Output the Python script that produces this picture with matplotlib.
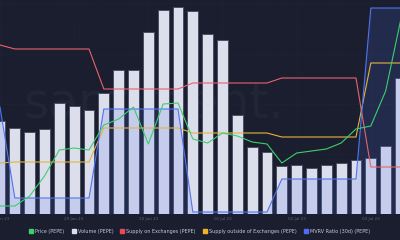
import matplotlib
matplotlib.use("Agg")
import matplotlib.pyplot as plt
from matplotlib.lines import Line2D
import numpy as np

# ---- data (28 periods, index -1 .. 26) ----
idx = list(range(-1, 27))
volume = [93, 86, 82, 85, 111, 108, 104, 121, 144, 144, 182, 204, 207, 203,
          180, 174, 99, 67, 62, 48, 49, 46, 49, 51, 54, 56, 68, 136]
price = [8, 8, 18, 38, 64, 66, 64, 89, 95, 107, 70, 110, 111, 75,
         71, 81, 78, 72, 70, 51, 61, 63, 65, 71, 85, 88, 123, 193]
supply_on = [169, 165, 165, 165, 165, 165, 165, 125, 125, 125, 125, 125, 125, 131,
             131, 131, 131, 131, 131, 136, 136, 136, 136, 136, 136, 47, 47, 47]
supply_out = [51, 52, 52, 52, 52, 52, 52, 86, 86, 86, 86, 86, 86, 81,
              81, 81, 81, 81, 81, 77, 77, 77, 77, 77, 77, 151, 151, 151]
mvrv = [107, 16, 16, 16, 16, 16, 16, 105, 105, 105, 105, 105, 105, 2,
        2, 2, 2, 2, 2, 35, 35, 35, 35, 35, 35, 206, 206, 206]
tick_idx = [-1, 4, 9, 14, 19, 24]
tick_labels = ["28 Jun 23", "29 Jun 23", "30 Jun 23", "01 Jul 23", "02 Jul 23", "03 Jul 23"]
legend_labels = ["Price (PEPE)", "Volume (PEPE)", "Supply on Exchanges (PEPE)",
                 "Supply outside of Exchanges (PEPE)", "MVRV Ratio (30d) (PEPE)"]

BG = "#1b1e2e"
C_PRICE = "#3ccf6a"
C_VOL = "#dcdeec"
C_RED = "#e8636d"
C_YEL = "#e3b43c"
C_BLUE = "#5074f0"

fig = plt.figure(figsize=(4, 2.4), dpi=100, facecolor=BG)
ax = fig.add_axes([0, 26 / 240, 1, 214 / 240])
ax.set_facecolor(BG)

# watermark
ax.text(283 / 15 - 0.7, 97, "santiment.", ha="right", va="baseline",
        fontsize=35, color="#222536", zorder=0.5)

# grid
for t in tick_idx:
    ax.axvline(t, color="#22263a", lw=0.5, ls=(0, (2, 2)), zorder=0.4)
for yv in [211, 160, 110, 60]:
    ax.axhline(yv, color="#22263a", lw=0.5, ls=(0, (2, 2)), zorder=0.4)

ax.bar(idx, volume, width=0.733, color=C_VOL, edgecolor="#4a4f63", linewidth=0.7, zorder=1)
ax.fill_between(idx, mvrv, 0, color=C_BLUE, alpha=0.16, lw=0, zorder=2)

ax.plot(idx, supply_on, color=C_RED, lw=0.8, zorder=3)
ax.plot(idx, supply_out, color=C_YEL, lw=0.8, zorder=3)
ax.plot(idx, price, color=C_PRICE, lw=0.8, zorder=4)
ax.plot(idx, mvrv, color=C_BLUE, lw=0.8, zorder=3)

ax.set_xlim(-0.7, 400 / 15 - 0.7)
ax.set_ylim(0, 214)
ax.set_xticks(tick_idx)
ax.set_xticklabels(tick_labels, fontsize=3, color="#5f6478")
ax.tick_params(axis="x", length=0, pad=2.5)
ax.set_yticks([])
for s in ax.spines.values():
    s.set_visible(False)

handles = [Line2D([], [], ls="", marker="s", markersize=2.4, color=c)
           for c in [C_PRICE, C_VOL, "#e84a55", "#f0b429", "#4f6cf5"]]
fig.legend(handles, legend_labels, loc="center", bbox_to_anchor=(0.5, 1 - 231 / 240),
           ncol=5, frameon=False, fontsize=3.5, labelcolor="#c4c8d6",
           handlelength=0.6, handletextpad=0.5, columnspacing=1.6, borderpad=0)

fig.savefig("out.png", dpi=100, facecolor=BG)
